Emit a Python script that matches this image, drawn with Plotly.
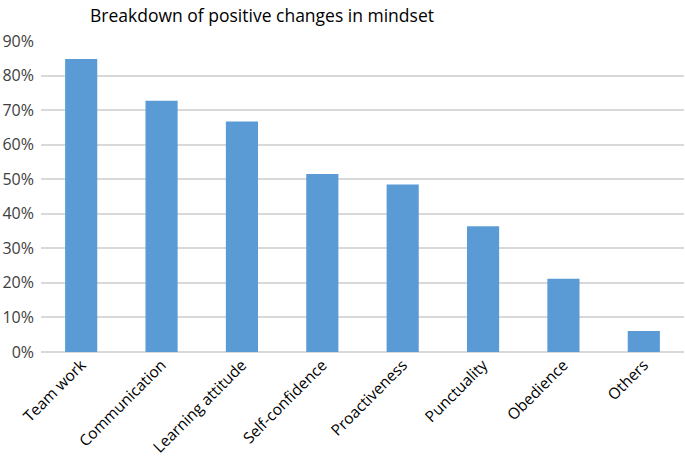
import plotly.graph_objects as go

categories = ["Team work", "Communication", "Learning attitude", "Self-confidence",
              "Proactiveness", "Punctuality", "Obedience", "Others"]
values = [0.848, 0.727, 0.667, 0.515, 0.485, 0.364, 0.212, 0.061]
tick_vals = [0, 0.1, 0.2, 0.3, 0.4, 0.5, 0.6, 0.7, 0.8, 0.9]
tick_text = ["0%", "10%", "20%", "30%", "40%", "50%", "60%", "70%", "80%", "90%"]

font = "Open Sans"
fig = go.Figure(go.Bar(x=categories, y=values, marker=dict(color="#5B9BD5", line=dict(width=0))))
fig.update_layout(
    width=685, height=456,
    margin=dict(l=41, r=1, t=41, b=104),
    paper_bgcolor="white", plot_bgcolor="white",
    bargap=0.6,
    showlegend=False,
    title=dict(text="Breakdown of positive changes in mindset", x=262/685, xanchor="center",
               xref="container", y=1-16/456, yanchor="middle", yref="container",
               font=dict(family=font, size=17.5, color="#000000")),
    font=dict(family=font, size=15, color="#404040"),
)
fig.update_xaxes(tickangle=-45, showline=False, ticks="", automargin=False,
                 tickfont=dict(size=15.5, color="#000000"))
fig.update_yaxes(range=[0, 0.9], tickvals=tick_vals, ticktext=tick_text, showgrid=True,
                 gridcolor="#D9D9D9", gridwidth=1.5, zeroline=True, zerolinecolor="#D9D9D9",
                 zerolinewidth=1.5, tickfont=dict(size=16, color="#404040"), ticks="",
                 ticklabelstandoff=6, automargin=False)
fig.write_html("out.html", config={"displayModeBar": False},
               post_script="document.body.style.margin='0';")
